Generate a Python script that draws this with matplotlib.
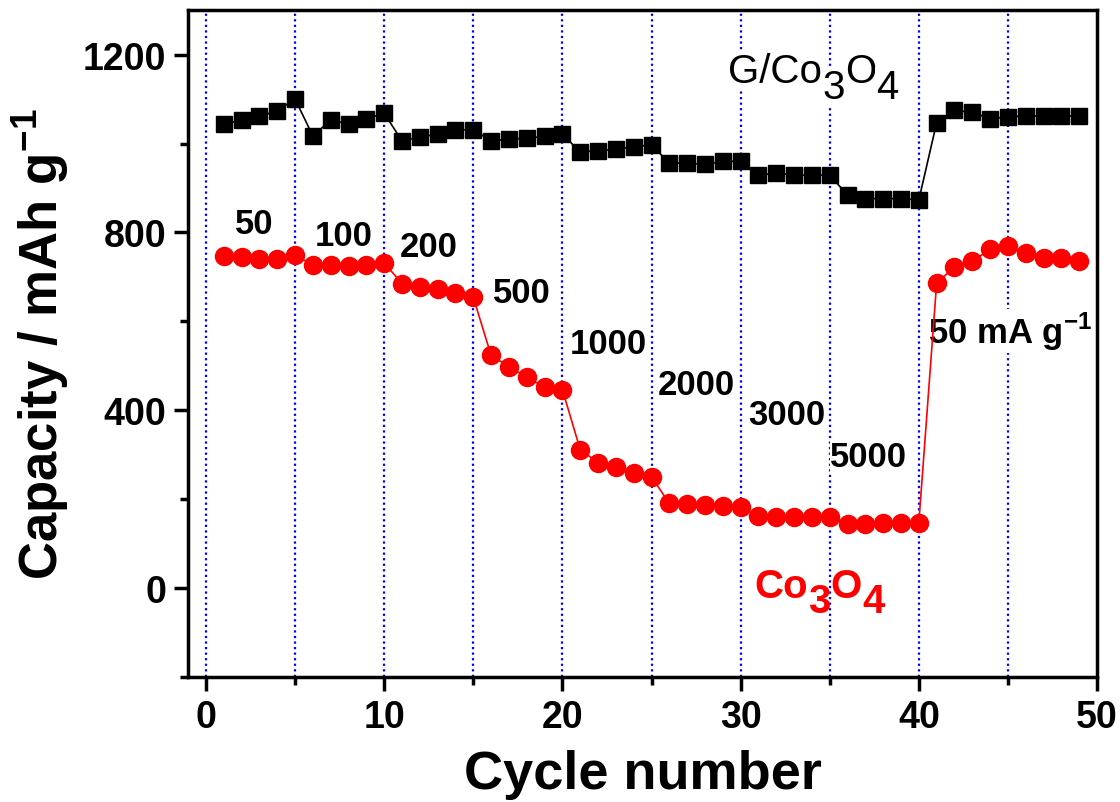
import numpy as np
import matplotlib
matplotlib.use("Agg")
import matplotlib.pyplot as plt
from matplotlib.ticker import MultipleLocator

plt.rcParams['font.family'] = ['Liberation Sans', 'DejaVu Sans']
plt.rcParams['mathtext.fontset'] = 'custom'
plt.rcParams['mathtext.rm'] = 'Liberation Sans'
plt.rcParams['mathtext.bf'] = 'Liberation Sans:bold'

# data
cycles = np.arange(1, 50)
g_co3o4 = [1044, 1053, 1061, 1074, 1100, 1017, 1053, 1044, 1056, 1068,
           1006, 1015, 1021, 1031, 1031, 1006, 1010, 1012, 1016, 1021,
           981, 984, 987, 993, 997, 956, 956, 953, 960, 960,
           929, 933, 929, 929, 929, 884, 876, 876, 876, 873,
           1047, 1075, 1070, 1056, 1060, 1062, 1062, 1062, 1062]
co3o4 = [747, 744, 741, 741, 750, 726, 726, 724, 726, 731,
         685, 677, 672, 663, 654, 523, 498, 474, 452, 446,
         311, 282, 271, 258, 250, 190, 188, 186, 184, 181,
         162, 160, 160, 160, 160, 143, 143, 145, 147, 147,
         686, 722, 735, 762, 769, 753, 743, 743, 735]
step_lines = [0, 5, 10, 15, 20, 25, 30, 35, 40, 45]
rate_labels = ["50", "100", "200", "500", "1000", "2000", "3000", "5000"]
rate_x = [2.7, 7.7, 12.5, 17.7, 22.6, 27.5, 32.6, 37.2]
rate_y = [821, 792, 769, 665, 550, 458, 390, 295]


def formula(ax, x, y, parts, size, **kw):
    # formula with full-size subscripts, pieces chained left to right
    prev = ax.text(x, y, parts[0], fontsize=size, va='baseline', ha='left', zorder=2, **kw)
    for i, p in enumerate(parts[1:]):
        drop = -11 if i % 2 == 0 else 0
        prev = ax.annotate(p, xy=(1, y), xycoords=(prev, 'data'),
                           xytext=(0, drop), textcoords='offset points',
                           fontsize=size, va='baseline', ha='left', zorder=2, **kw)


fig = plt.figure(figsize=(11.2, 8.03), dpi=100)
ax = fig.add_axes([0.168, 0.156, 0.8115, 0.830])

for xv in step_lines:
    ax.axvline(xv, color='blue', linestyle=(0, (1, 1.5)), lw=1.6, zorder=1)

ax.plot(cycles, g_co3o4, color='black', marker='s', ms=12, lw=1.2, zorder=3)
ax.plot(cycles, co3o4, color='red', marker='o', ms=13, lw=1.2, zorder=3)

for lab, xv, yv in zip(rate_labels, rate_x, rate_y):
    ax.text(xv, yv, lab, fontsize=25, fontweight='bold', ha='center', va='center',
            zorder=2, bbox=dict(facecolor='white', edgecolor='none', pad=0.5))
ax.text(40.5, 551, r'50 mA g$^{\mathbf{-1}}$', fontsize=25, fontweight='bold',
        ha='left', va='baseline', zorder=2,
        bbox=dict(facecolor='white', edgecolor='none', pad=0.5))

formula(ax, 29.3, 1138, ['G/Co', '3', 'O', '4'], 29,
        bbox=dict(facecolor='white', edgecolor='none', pad=0.5))
formula(ax, 30.8, -20, ['Co', '3', 'O', '4'], 29, color='red', fontweight='bold')

ax.set_xlim(-1, 50)
ax.set_ylim(-200, 1300)
ax.xaxis.set_major_locator(MultipleLocator(10))
ax.xaxis.set_minor_locator(MultipleLocator(5))
ax.yaxis.set_major_locator(MultipleLocator(400))
ax.yaxis.set_minor_locator(MultipleLocator(200))
ax.tick_params(which='major', direction='out', length=10, width=2.5, labelsize=27, pad=6)
ax.tick_params(which='minor', direction='out', length=6, width=2.5)
ax.tick_params(top=False, right=False)
for lab in ax.get_xticklabels() + ax.get_yticklabels():
    lab.set_fontweight('bold')
for sp in ax.spines.values():
    sp.set_linewidth(2.5)

ax.set_xlabel('Cycle number', fontsize=39, fontweight='bold', labelpad=10)
ax.set_ylabel(r'Capacity / mAh g$^{\mathregular{-1}}$', fontsize=38, fontweight='bold', labelpad=8)

fig.savefig('out.png', dpi=100)
